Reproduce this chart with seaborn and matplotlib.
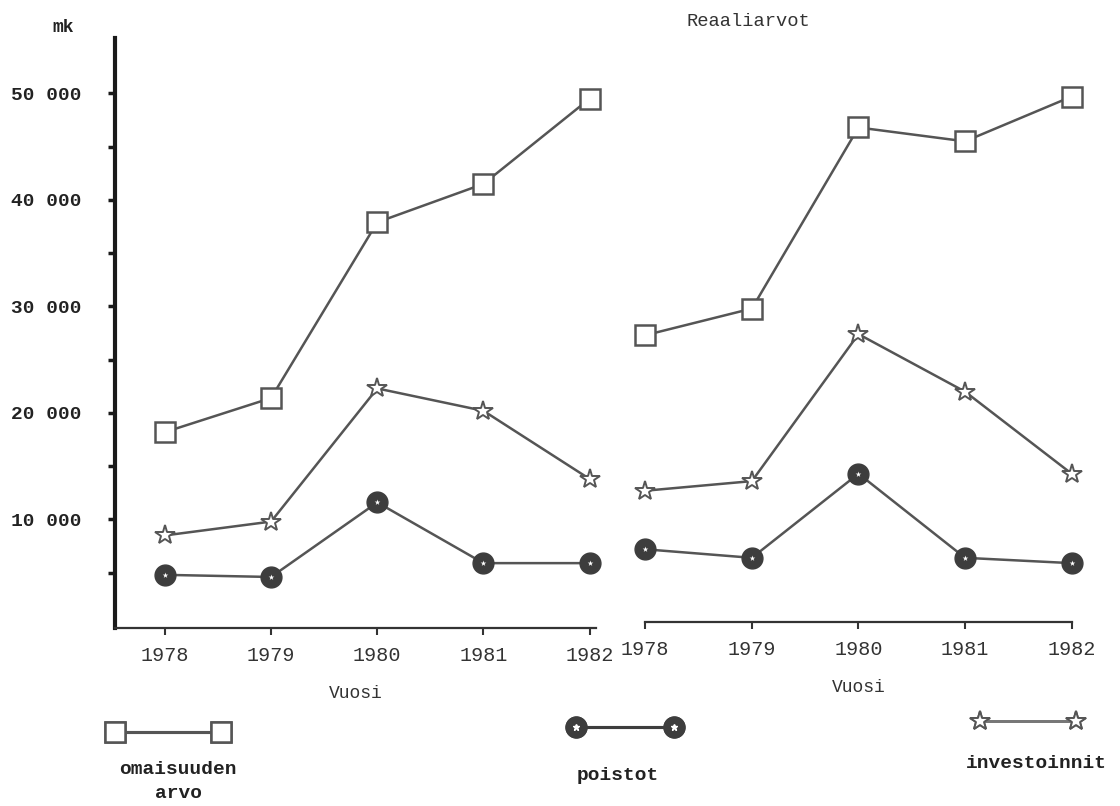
import numpy as np
import pandas as pd
import seaborn as sns
import matplotlib.pyplot as plt
from matplotlib.lines import Line2D
from matplotlib.ticker import FixedLocator, FuncFormatter

# vuodet
years = [1978, 1979, 1980, 1981, 1982]

# nimellisarvot (vasen paneeli), mk
nim_omaisuus = [18200, 21400, 37900, 41500, 49500]
nim_investoinnit = [8500, 9800, 22300, 20200, 13800]
nim_poistot = [4800, 4600, 11600, 5900, 5900]

# reaaliarvot (oikea paneeli), mk
re_omaisuus = [27300, 29800, 46800, 45500, 49700]
re_investoinnit = [12700, 13600, 27400, 22000, 14300]
re_poistot = [7200, 6400, 14300, 6400, 5900]

series_names = ["omaisuuden arvo", "poistot", "investoinnit"]
y_major = [10000, 20000, 30000, 40000, 50000]
y_minor = [5000, 15000, 25000, 35000, 45000]


def long_df(omaisuus, poistot, investoinnit):
    parts = []
    for name, vals in zip(series_names, [omaisuus, poistot, investoinnit]):
        parts.append(pd.DataFrame({"vuosi": years, "mk": vals, "sarja": name}))
    return pd.concat(parts, ignore_index=True)


df_nim = long_df(nim_omaisuus, nim_poistot, nim_investoinnit)
df_re = long_df(re_omaisuus, re_poistot, re_investoinnit)

sns.set_theme(style="white")
plt.rcParams["font.family"] = ["Liberation Mono", "DejaVu Sans"]

line_col = "#555555"
dark = "#3d3d3d"
styles = {
    "omaisuuden arvo": dict(marker="s", markersize=14, markerfacecolor="white",
                            markeredgecolor=line_col, markeredgewidth=1.8),
    "poistot": dict(marker="o", markersize=15, markerfacecolor=dark,
                    markeredgecolor=dark, markeredgewidth=1),
    "investoinnit": dict(marker="*", markersize=15, markerfacecolor="white",
                         markeredgecolor=line_col, markeredgewidth=1.4),
}

W, H = 1120, 806
fig = plt.figure(figsize=(W / 100, H / 100), dpi=100)
ax1 = fig.add_axes([115 / W, 1 - 628 / H, (596 - 115) / W, (628 - 38) / H])
ax2 = fig.add_axes([640 / W, 1 - 622 / H, (1078 - 640) / W, (622 - 38) / H])


def draw(ax, df):
    for name in series_names:
        sub = df[df["sarja"] == name]
        sns.lineplot(data=sub, x="vuosi", y="mk", ax=ax, color=line_col,
                     linewidth=1.8, legend=False, clip_on=False,
                     **styles[name])
        if name == "poistot":
            # pieni valkoinen piste ympyrän keskellä
            sns.scatterplot(data=sub, x="vuosi", y="mk", ax=ax, marker="*",
                            s=18, color="white", linewidth=0, legend=False,
                            zorder=5, clip_on=False)
    ax.set_xticks(years)
    ax.set_xticklabels([str(y) for y in years], fontsize=14.5, color="#333333")
    ax.tick_params(axis="x", direction="out", length=5, width=1.5,
                   color="#333333", bottom=True, pad=8)
    ax.set_ylabel("")
    ax.set_xlabel("Vuosi", fontsize=13, color="#333333", labelpad=14)
    for s in ["top", "right"]:
        ax.spines[s].set_visible(False)
    ax.spines["bottom"].set_color("#333333")
    ax.spines["bottom"].set_linewidth(1.6)


draw(ax1, df_nim)
draw(ax2, df_re)

ax1.set_xlim(1977.53, 1982.06)
ax1.set_ylim(-190, 55200)
ax2.set_xlim(1977.95, 1982.06)
ax2.set_ylim(375, 55200)
ax2.spines["bottom"].set_bounds(1978, 1982)

ax1.spines["left"].set_color("#1a1a1a")
ax1.spines["left"].set_linewidth(3)
ax1.yaxis.set_major_locator(FixedLocator(y_major))
ax1.yaxis.set_minor_locator(FixedLocator(y_minor))
ax1.yaxis.set_major_formatter(FuncFormatter(lambda v, p: f"{int(v):,}".replace(",", " ")))
ax1.tick_params(axis="y", which="both", direction="out", length=5, width=2.5,
                color="#1a1a1a", left=True, labelsize=14, pad=19)
for lab in ax1.get_yticklabels():
    lab.set_fontweight("bold")
    lab.set_color("#222222")

ax2.spines["left"].set_visible(False)
ax2.set_yticks([])

fig.text(52 / W, 1 - 28 / H, "mk", fontsize=13, fontweight="bold",
         ha="left", va="center", color="#222222")
fig.text(748 / W, 1 - 22 / H, "Reaaliarvot", fontsize=13.5, ha="center",
         va="center", color="#333333")

# selitteet kuvan alaosaan
leg_handles = {
    "omaisuuden arvo": Line2D([], [], color=line_col, linewidth=2.2,
                              **styles["omaisuuden arvo"]),
    "poistot": (Line2D([], [], color=dark, linewidth=2.2, **styles["poistot"]),
                Line2D([], [], linestyle="none", marker="*", markersize=5,
                       color="white")),
    "investoinnit": Line2D([], [], color="#777777", linewidth=2,
                           **styles["investoinnit"]),
}
leg_pos = {"omaisuuden arvo": (168, 733, 7.0),
           "poistot": (625, 728, 6.5),
           "investoinnit": (1028, 722, 6.3)}
for name in series_names:
    cx, cy, hl = leg_pos[name]
    lg = fig.legend(handles=[leg_handles[name]], labels=[""], loc="center",
                    bbox_to_anchor=(cx / W, 1 - cy / H), frameon=False,
                    numpoints=2, handlelength=hl, handletextpad=0,
                    fontsize=12)
    fig.add_artist(lg)

lab_kw = dict(fontsize=14, fontweight="bold", ha="center", va="center",
              color="#222222")
fig.text(178 / W, 1 - 770 / H, "omaisuuden", **lab_kw)
fig.text(178 / W, 1 - 793 / H, "arvo", **lab_kw)
fig.text(618 / W, 1 - 776 / H, "poistot", **lab_kw)
fig.text(1036 / W, 1 - 763 / H, "investoinnit", **lab_kw)

fig.savefig("out.png", dpi=100)
